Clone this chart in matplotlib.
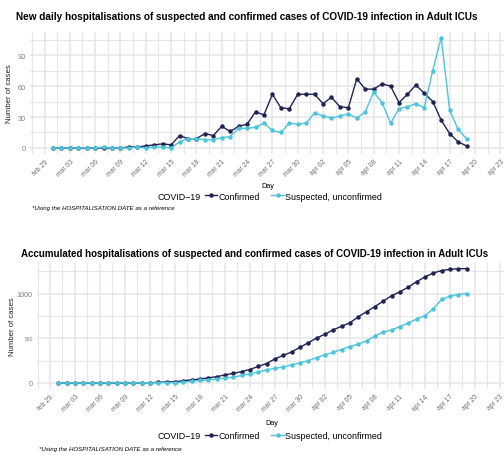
import numpy as np
import matplotlib
matplotlib.use("Agg")
import matplotlib.pyplot as plt
from matplotlib.ticker import FixedLocator, NullFormatter

plt.rcParams["font.family"] = ["Liberation Sans", "DejaVu Sans"]

# ── Data ──────────────────────────────────────────────
# day index: 0 = feb 29, data runs mar 01 .. apr 19
days = np.arange(1, 51)
confirmed = [0, 0, 0, 0, 0, 0, 0, 0, 0, 1, 1, 2, 3, 4, 3, 12, 9, 9, 14, 12,
             21, 16, 21, 23, 35, 32, 52, 39, 38, 52, 52, 52, 43, 49, 40, 39, 67, 57, 57, 62,
             60, 44, 52, 61, 53, 45, 27, 14, 6, 2]
suspected = [0, 0, 0, 0, 0, 0, 1, 0, 0, 0, 1, 0, 1, 1, 0, 6, 9, 9, 8, 8,
             10, 11, 19, 19, 20, 24, 17, 15, 24, 23, 24, 34, 31, 29, 31, 33, 29, 35, 54, 44,
             24, 38, 40, 43, 39, 75, 107, 37, 18, 9]
confirmed_acc = [0, 0, 0, 0, 0, 0, 0, 0, 0, 1, 2, 4, 7, 11, 14, 26, 35, 44, 58, 70,
                 91, 107, 128, 151, 186, 218, 270, 309, 347, 399, 451, 503, 546, 595, 635, 674,
                 741, 798, 855, 917, 977, 1021, 1073, 1134, 1187, 1232, 1259, 1273, 1279, 1281]
suspected_acc = [0, 0, 0, 0, 0, 0, 1, 1, 1, 1, 2, 2, 3, 4, 4, 10, 19, 28, 36, 44,
                 54, 65, 84, 103, 123, 147, 164, 179, 203, 226, 250, 284, 315, 344, 375, 408,
                 437, 472, 526, 570, 594, 632, 672, 715, 754, 829, 936, 973, 991, 1000]

tick_days = np.arange(0, 55, 3)
tick_labels = (["feb 29"] + ["mar %02d" % d for d in range(3, 31, 3)]
               + ["apr %02d" % d for d in range(2, 24, 3)])

NAVY = "#1f2454"
CYAN = "#4cc4db"
GRID = "#e6e6e6"
W, H = 504, 456
MS = 2.2

fig = plt.figure(figsize=(W / 100, H / 100), dpi=100)


def px_axes(left, right, top, bottom):
    return fig.add_axes([left / W, 1 - bottom / H, (right - left) / W, (bottom - top) / H])


def style(ax, xlim, ylim, yticks, yminor):
    ax.set_xlim(*xlim)
    ax.set_ylim(*ylim)
    for s in ax.spines.values():
        s.set_visible(False)
    ax.xaxis.set_major_locator(FixedLocator(tick_days))
    ax.xaxis.set_minor_locator(FixedLocator(np.arange(-1.5, 56, 3)))
    ax.set_xticklabels(tick_labels, rotation=45, ha="right", va="top",
                       rotation_mode="anchor", fontsize=4.9, color="#6e6e6e")
    ax.yaxis.set_major_locator(FixedLocator(yticks))
    ax.yaxis.set_minor_locator(FixedLocator(yminor))
    ax.yaxis.set_minor_formatter(NullFormatter())
    ax.tick_params(which="both", length=0, pad=3)
    ax.tick_params(axis="y", labelsize=5.2, labelcolor="#7f7f7f")
    ax.grid(True, which="major", color=GRID, lw=1.1)
    ax.grid(True, which="minor", color=GRID, lw=0.8)
    ax.set_axisbelow(True)
    ax.set_ylabel("Number of cases", fontsize=5.6, color="#222222")


def legend(y):
    fig.text(158 / W, y, "COVID\u221219", fontsize=6.4, va="center", ha="left")
    h1, = plt.plot([], [], color=NAVY, lw=1, marker="o", ms=MS)
    h2, = plt.plot([], [], color=CYAN, lw=1, marker="o", ms=MS)
    fig.legend([h1, h2], ["Confirmed", "Suspected, unconfirmed"], loc="center left",
               bbox_to_anchor=(205 / W, y), ncol=2, frameon=False, fontsize=6.4,
               handlelength=1.4, handletextpad=0.12, columnspacing=1.3, borderpad=0,
               borderaxespad=0)


# ── Top: daily ────────────────────────────────────────
ax1 = px_axes(30, 504, 33, 154.5)
ax1.plot(days, confirmed, color=NAVY, lw=1, marker="o", ms=MS, zorder=3)
ax1.plot(days, suspected, color=CYAN, lw=1, marker="o", ms=MS, zorder=3)
style(ax1, (-14.5 / 8.44, 459.5 / 8.44), (-5.35, 112.35), [0, 30, 60, 90], [15, 45, 75, 105])
ax1.yaxis.set_label_coords(-0.036, 0.5)
fig.text(16 / W, 1 - 16.7 / H, "New daily hospitalisations of suspected and confirmed cases "
         "of COVID-19 infection in Adult ICUs", fontsize=7.2, fontweight="bold", va="center")
fig.text(268 / W, 1 - 186 / H, "Day", fontsize=5.2, ha="center", va="center")
legend(1 - 197 / H)
fig.text(32 / W, 1 - 208.5 / H, "*Using the HOSPITALISATION DATE as a reference",
         fontsize=4.4, style="italic", va="center")

# ── Bottom: accumulated ───────────────────────────────
ax2 = px_axes(37, 504, 263.9, 389.7)
ax2.plot(days, confirmed_acc, color=NAVY, lw=1, marker="o", ms=MS, zorder=3)
ax2.plot(days, suspected_acc, color=CYAN, lw=1, marker="o", ms=MS, zorder=3)
style(ax2, (-13 / 8.33, 454 / 8.33), (-64, 1345), [0, 500, 1000], [250, 750, 1250])
for lab in ax2.get_yticklabels():
    if lab.get_text() == "500":
        lab.set_fontsize(3.6)
ax2.yaxis.set_label_coords(-0.045, 0.5)
fig.text(21 / W, 1 - 254 / H, "Accumulated hospitalisations of suspected and confirmed cases "
         "of COVID-19 infection in Adult ICUs", fontsize=7.05, fontweight="bold", va="center")
fig.text(272 / W, 1 - 424 / H, "Day", fontsize=5.2, ha="center", va="center")
legend(1 - 437 / H)
fig.text(39 / W, 1 - 450 / H, "*Using the HOSPITALISATION DATE as a reference",
         fontsize=4.4, style="italic", va="center")

fig.savefig("out.png", dpi=100)
